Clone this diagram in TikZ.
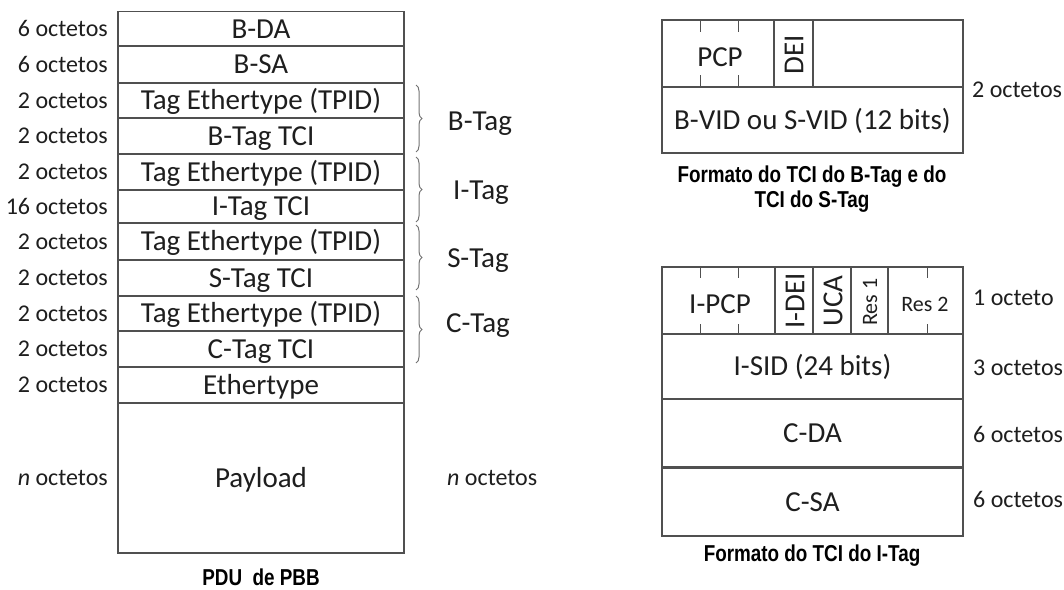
\documentclass[tikz,border=0pt]{standalone}
\usepackage{fontspec}
\setmainfont{Carlito}
\newfontfamily\capfont[FakeStretch=0.82]{Liberation Sans}
\usetikzlibrary{decorations.pathreplacing}
\definecolor{linec}{HTML}{505050}
\definecolor{txt}{HTML}{1E1E1E}
\begin{document}
\begin{tikzpicture}[x=1pt,y=-1pt,
  cell/.style={draw=linec, line width=1.4pt, inner sep=0pt, text=txt,
    font=\fontsize{29}{31}\selectfont, text height=22pt, text depth=3.5pt},
  lab/.style={inner sep=0pt, text=txt, font=\fontsize{24}{26}\selectfont,
    text height=18pt, text depth=3pt},
  small/.style={inner sep=0pt, text=txt, font=\fontsize{22}{24}\selectfont,
    text height=16pt, text depth=2pt},
  captxt/.style={inner sep=0pt, text=black, align=center, anchor=base,
    font=\capfont\bfseries\fontsize{23}{25}\selectfont},
  tick/.style={draw=linec, line width=1pt},
  tagbrace/.style={draw=linec!80, line width=1pt, decorate,
    decoration={brace, amplitude=6pt}}]
\useasboundingbox (0,0) rectangle (1064,589);
% ---------- PDU de PBB ----------
\begin{scope}[every node/.append style={minimum width=286pt}]
\node[cell, minimum height=34.5pt] (bda)  at (261,28.75) {B-DA};
\node[cell, minimum height=37pt]   (bsa)  at (261,64.5)  {B-SA};
\node[cell, minimum height=35pt]   (tp1)  at (261,100.5) {Tag Ethertype (TPID)};
\node[cell, minimum height=36pt]   (btci) at (261,136)   {B-Tag TCI};
\node[cell, minimum height=36pt]   (tp2)  at (261,172)   {Tag Ethertype (TPID)};
\node[cell, minimum height=33pt]   (itci) at (261,206.5) {I-Tag TCI};
\node[cell, minimum height=37pt]   (tp3)  at (261,241.5) {Tag Ethertype (TPID)};
\node[cell, minimum height=36pt]   (stci) at (261,278)   {S-Tag TCI};
\node[cell, minimum height=35pt]   (tp4)  at (261,313.5) {Tag Ethertype (TPID)};
\node[cell, minimum height=36pt]   (ctci) at (261,349)   {C-Tag TCI};
\node[cell, minimum height=36pt]   (eth)  at (261,385)   {Ethertype};
\node[cell, minimum height=150pt]  (pay)  at (261,478)   {Payload};
\end{scope}
\node[lab, anchor=east] (l1)  at (108,28.75) {6 octetos};
\node[lab, anchor=east] (l2)  at (108,64.5)  {6 octetos};
\node[lab, anchor=east] (l3)  at (108,100.5) {2 octetos};
\node[lab, anchor=east] (l4)  at (108,136)   {2 octetos};
\node[lab, anchor=east] (l5)  at (108,172)   {2 octetos};
\node[lab, anchor=east] (l6)  at (108,206.5) {16 octetos};
\node[lab, anchor=east] (l7)  at (108,241.5) {2 octetos};
\node[lab, anchor=east] (l8)  at (108,278)   {2 octetos};
\node[lab, anchor=east] (l9)  at (108,313.5) {2 octetos};
\node[lab, anchor=east] (l10) at (108,349)   {2 octetos};
\node[lab, anchor=east] (l11) at (108,385)   {2 octetos};
\node[lab, anchor=east] (l12) at (108,478)   {\itshape n\upshape{} octetos};
\node[lab, anchor=west] (r12) at (447,478)   {\itshape n\upshape{} octetos};
\node[captxt] (pdu) at (261,585) {PDU\ \ de PBB};
% braces
\coordinate (bt1) at (416,85);  \coordinate (bt2) at (416,152);
\coordinate (it1) at (416,157); \coordinate (it2) at (416,222);
\coordinate (st1) at (416,225); \coordinate (st2) at (416,290);
\coordinate (ct1) at (416,296); \coordinate (ct2) at (416,363);
\draw[tagbrace] (bt1) -- (bt2);
\draw[tagbrace] (it1) -- (it2);
\draw[tagbrace] (st1) -- (st2);
\draw[tagbrace] (ct1) -- (ct2);
\node[cell, draw=none] (btag) at (480,121) {B-Tag};
\node[cell, draw=none] (itag) at (481,190) {I-Tag};
\node[cell, draw=none] (stag) at (478,258) {S-Tag};
\node[cell, draw=none] (ctag) at (478,323) {C-Tag};
% ---------- TCI do B-Tag / S-Tag ----------
\node[cell, minimum width=301pt, minimum height=133pt] (tcib) at (812.5,86.5) {};
\node[cell, minimum width=112pt, minimum height=67pt] (pcp) at (718,53.5) {};
\node[cell, minimum width=39pt, minimum height=67pt] (dei) at (793.5,53.5) {};
\node[cell, minimum width=301pt, minimum height=66pt] (vid) at (812.5,120) {B-VID ou S-VID (12 bits)};
\node[cell, draw=none] (pcpt) at (720,57) {PCP};
\node[cell, draw=none, rotate=90] (deit) at (794,55) {DEI};
\foreach \x in {700,738}{
  \draw[tick] (\x,20) -- (\x,32);
  \draw[tick] (\x,75) -- (\x,87);
}
\node[lab, anchor=west] (o2) at (972,90) {2 octetos};
\node[captxt] (capb) at (812,207) {Formato do TCI do B-Tag e do\\TCI do S-Tag};
% ---------- TCI do I-Tag ----------
\node[cell, minimum width=113pt, minimum height=67pt] (ipcp) at (718.5,300.5) {};
\node[cell, minimum width=38pt, minimum height=67pt] (idei) at (794,300.5) {};
\node[cell, minimum width=38pt, minimum height=67pt] (uca) at (832,300.5) {};
\node[cell, minimum width=37pt, minimum height=67pt] (res1) at (869.5,300.5) {};
\node[cell, minimum width=75pt, minimum height=67pt] (res2) at (925.5,300.5) {};
\node[cell, minimum width=301pt, minimum height=65pt] (isid) at (812.5,366.5) {I-SID (24 bits)};
\node[cell, minimum width=301pt, minimum height=69pt] (cda) at (812.5,433.5) {C-DA};
\node[cell, minimum width=301pt, minimum height=68pt] (csa) at (812.5,502) {C-SA};
\draw[draw=linec, line width=2.2pt] (csa.north west) -- (csa.north east);
\node[cell, draw=none] (ipcpt) at (720,304) {I-PCP};
\node[cell, draw=none, rotate=90] (ideit) at (795,301) {I-DEI};
\node[cell, draw=none, rotate=90] (ucat) at (833,301) {UCA};
\node[small, rotate=90] (res1t) at (870,302) {Res 1};
\node[small] (res2t) at (925,304) {Res 2};
\foreach \x in {700,738,927}{
  \draw[tick] (\x,267) -- (\x,278);
  \draw[tick] (\x,324) -- (\x,334);
}
\node[lab, anchor=west] (o1) at (973,298) {1 octeto};
\node[lab, anchor=west] (o3) at (973,368) {3 octetos};
\node[lab, anchor=west] (o6a) at (973,435) {6 octetos};
\node[lab, anchor=west] (o6b) at (973,500) {6 octetos};
\node[captxt] (capi) at (812,561) {Formato do TCI do I-Tag};
\end{tikzpicture}
\end{document}
